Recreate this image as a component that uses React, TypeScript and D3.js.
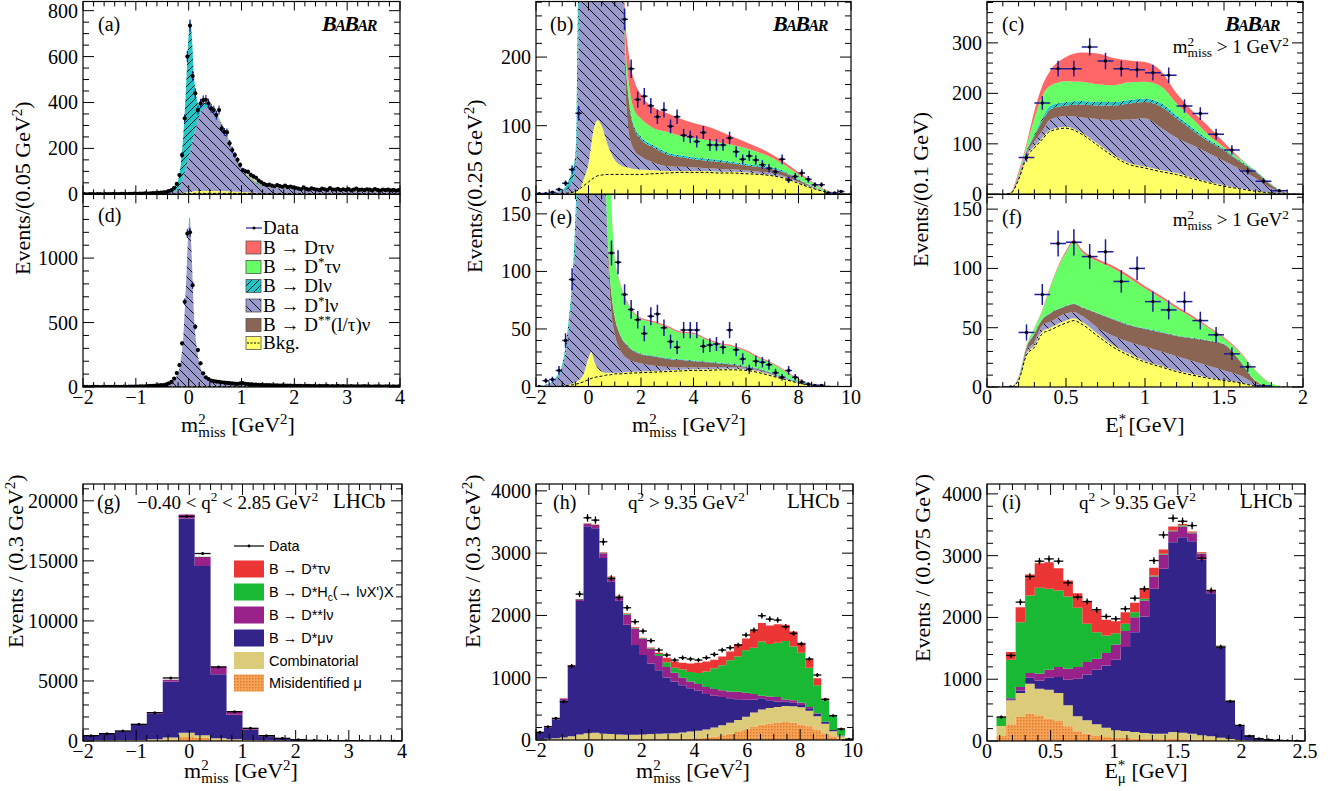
import React from 'react';
import * as d3 from 'd3';

const SERIF = '"Liberation Serif", "Times New Roman", Times, serif';
const SANS = '"Liberation Sans", Arial, Helvetica, sans-serif';

// ---------- colours ----------
const B_RED = '#ff6666';
const B_GREEN = '#66ff66';
const B_CYAN = '#22c6c6';
const B_BLUE = '#9a9acc';
const B_BROWN = '#8b6553';
const B_YELLOW = '#ffff66';
const B_ERR = '#1c1c9c';
const L_RED = '#ec3535';
const L_GREEN = '#19b935';
const L_PURPLE = '#98228a';
const L_NAVY = '#33248a';
const L_TAN = '#dccb78';

// ================= Panel (a) =================
const aX = [-2, -1.5, -1, -0.7, -0.5, -0.4, -0.3, -0.2, -0.15, -0.1, -0.05, 0, 0.03, 0.06, 0.1, 0.15, 0.2, 0.25, 0.3, 0.35, 0.4, 0.5, 0.6, 0.7, 0.8, 0.9, 1.0, 1.1, 1.2, 1.3, 1.4, 1.6, 1.8, 2.0, 2.5, 3.0, 3.5, 4.0];
const aBkgLow = [0, 0, 0, 0, 0, 0, 1, 1, 2, 2, 3, 3, 3, 3, 4, 4, 4, 4, 4, 4, 4, 4, 4, 4, 4, 4, 4, 4, 4, 3, 3, 3, 3, 3, 2, 2, 2, 2];
const aBkgHigh = [0, 0, 0, 0, 0, 0, 1, 2, 3, 4, 5, 6, 7, 8, 9, 10, 10, 10, 10, 10, 10, 10, 10, 9, 8, 7, 6, 5, 4, 3, 2, 2, 2, 2, 2, 1, 1, 1];
const aDsLnu = [0, 0.5, 1.5, 3, 5, 8, 10, 17, 35, 69, 107, 151, 180, 209, 247, 286, 326, 351, 361, 362, 358, 336, 294, 251, 193, 141, 98, 71, 52, 38, 30, 23, 19, 16, 13, 11, 9, 7];
const aDss = [0, 0, 0, 0, 0, 0, 0, 0, 0, 0, 0, 0, 0, 0, 0, 1, 1, 2, 2, 3, 3, 3, 3, 3, 3, 3, 3, 3, 3, 3, 3, 3, 3, 3, 2, 2, 2, 2];
const aDLnu = [0, 0.5, 0.5, 1, 3, 6, 13, 40, 90, 185, 345, 540, 570, 470, 260, 119, 47, 26, 21, 17, 12, 9, 5, 4, 3, 1, 1, 2, 2, 3, 2, 2, 1, 2, 2, 2, 3, 3];
const aDsTauNu = [0, 0, 0, 0, 0, 0, 0, 0, 0, 0, 0, 0, 0, 0, 0, 0, 1, 1, 1, 1, 2, 2, 2, 2, 2, 3, 3, 3, 3, 3, 3, 3, 3, 2, 2, 2, 2, 2];
const aDTauNu = [0, 0, 0, 0, 0, 0, 0, 0, 0, 0, 0, 0, 0, 0, 0, 0, 1, 1, 1, 1, 1, 1, 2, 2, 2, 2, 2, 2, 2, 2, 2, 2, 2, 2, 2, 2, 1, 1];
const aCounts = [
  1, 0, 1, 1, 0, 1, 1, 0, 1, 1, 1, 2, 1, 1, 2, 2, 1, 2, 2, 3,
  2, 3, 3, 4, 3, 4, 5, 5, 6, 7,
  8, 10, 14, 18, 28, 45, 84, 171, 331, 600,
  735, 515, 440, 367, 396, 410, 412, 396, 375, 367,
  345, 367, 287, 272, 270, 222, 193, 171, 150, 128,
  105, 100, 98, 85, 78, 72, 60, 52, 45, 40,
  42, 38, 35, 40, 36, 33, 38, 31, 34, 30,
  28, 25, 22, 30, 24, 20, 26, 23, 21, 18, 25, 22, 19, 27, 21, 20, 24, 18, 22, 19,
  23, 17, 20, 25, 19, 21, 18, 22, 20, 17, 23, 19, 16, 21, 18, 20, 17, 19, 16, 18,
];

// ================= Panel (d) =================
const dX = [-2, -1.5, -1, -0.7, -0.5, -0.4, -0.3, -0.2, -0.15, -0.1, -0.05, 0, 0.02, 0.05, 0.1, 0.15, 0.2, 0.25, 0.3, 0.4, 0.5, 0.6, 0.8, 1.0, 1.2, 1.5, 2, 2.5, 3, 3.5, 4];
const dBkgLow = [0, 0, 0, 0, 0, 0, 1, 1, 1, 2, 2, 3, 3, 3, 3, 3, 3, 3, 3, 3, 3, 3, 2, 2, 2, 2, 1, 1, 1, 1, 1];
const dBkgHigh = [0, 0, 0, 0, 0, 0, 0, 1, 1, 1, 2, 3, 3, 3, 3, 2, 2, 2, 2, 1, 1, 1, 1, 1, 1, 1, 0, 0, 0, 0, 0];
const dDsLnu = [1, 2, 4, 7, 14, 24, 47, 104, 193, 391, 788, 1234, 1304, 1086, 549, 311, 182, 113, 77, 48, 37, 30, 23, 19, 13, 8, 6, 4, 3, 2, 2];
const dDss = [0, 0, 0, 0, 0, 0, 0, 0, 0, 0, 0, 0, 0, 0, 0, 1, 1, 1, 1, 1, 1, 1, 1, 1, 1, 1, 1, 1, 1, 1, 1];
const dDLnu = [0, 0, 0, 0, 1, 1, 2, 4, 5, 6, 8, 10, 10, 8, 5, 3, 2, 1, 1, 1, 1, 1, 1, 1, 1, 1, 0, 0, 0, 0, 0];
const dDsTauNu = [0, 0, 0, 0, 0, 0, 0, 0, 0, 0, 0, 0, 0, 0, 0, 0, 0, 0, 1, 1, 1, 1, 1, 1, 1, 1, 1, 1, 1, 1, 1];
const dDTauNu = [0, 0, 0, 0, 0, 0, 0, 0, 0, 0, 0, 0, 0, 0, 0, 0, 0, 0, 0, 0, 1, 1, 1, 1, 1, 1, 1, 1, 0, 0, 0];
const dCounts = [
  2, 1, 0, 1, 2, 1, 0, 1, 1, 2, 1, 2, 1, 2, 2, 3, 2, 3, 3, 4,
  4, 5, 5, 6, 7, 8, 9, 10, 12, 14,
  15, 20, 28, 40, 65, 108, 170, 339, 661, 1190,
  1200, 790, 467, 287, 184, 106, 75, 62, 50, 45,
  42, 40, 37, 35, 32, 30, 28, 26, 24, 28,
  30, 25, 22, 20, 19, 18, 17, 16, 15, 14,
  14, 13, 12, 13, 11, 12, 10, 11, 10, 9,
  9, 8, 9, 7, 8, 8, 7, 9, 6, 8, 7, 7, 8, 6, 7, 6, 8, 6, 7, 5,
  6, 7, 5, 6, 6, 5, 7, 5, 6, 4, 5, 6, 5, 4, 6, 5, 4, 5, 4, 5,
];

// ================= Panel (b) =================
const bX = [-2, -1.5, -1, -0.75, -0.5, -0.45, -0.4, -0.3, -0.2, 0, 0.2, 0.35, 0.5, 0.75, 1, 1.2, 1.3, 1.4, 1.5, 1.6, 1.75, 2, 2.5, 3, 3.5, 4, 4.5, 5, 5.5, 6, 6.5, 7, 7.5, 8, 8.5, 9, 9.5, 10];
const bBkgLow = [0, 0, 1, 2, 4, 5, 6, 9, 12, 18, 24, 27, 28, 29, 29, 29, 29, 29, 29, 29, 29, 29, 30, 31, 32, 32, 32, 31, 31, 30, 29, 27, 23, 16, 9, 4, 1, 0];
const bBkgHigh = [0, 0, 0, 0, 0, 0, 0, 1, 8, 27, 71, 81, 72, 41, 21, 14, 12, 11, 10, 9, 8, 7, 5, 3, 2, 2, 2, 2, 2, 2, 1, 1, 1, 1, 1, 0, 0, 0];
const bDsLnu = [0, 1, 3, 8, 30, 60, 164, 490, 780, 955, 905, 892, 850, 780, 650, 557, 339, 130, 61, 40, 27, 19, 11, 7, 6, 5, 4, 4, 3, 3, 3, 3, 2, 1, 1, 0, 0, 0];
const bDss = [0, 0, 0, 0, 0, 0, 0, 0, 0, 0, 0, 0, 0, 0, 0, 0, 20, 40, 50, 40, 31, 25, 22, 17, 14, 12, 11, 10, 9, 7, 7, 6, 5, 3, 1, 0, 0, 0];
const bDLnu = [0, 0.5, 2, 10, 22, 50, 120, 150, 100, 50, 50, 50, 50, 50, 50, 40, 10, 5, 4, 4, 4, 4, 3, 3, 3, 3, 3, 3, 2, 2, 2, 2, 2, 1, 0.5, 0.5, 0, 0];
const bDsTauNu = [0, 0, 0, 0.5, 1, 2, 3, 3, 3, 3, 3, 3, 3, 3, 4, 5, 10, 15, 21, 23, 23, 26, 25, 30, 28, 28, 27, 25, 25, 23, 19, 14, 9, 7, 5.5, 1.5, 0.2, 0];
const bDTauNu = [0, 0, 0, 0, 0.5, 1, 2, 2, 2, 2, 2, 2, 3, 3, 4, 5, 20, 32, 40, 43, 43, 35, 30, 27, 25, 22, 20, 17, 12, 9, 7, 5, 4, 3, 1, 1, 0.3, 0];
const bCounts = [1, 1, 3, 7, 16, 36, 118, null, null, null, null, null, null, 255, 183, 138, 143, 129, 113, 123, 99, 113, 86, 84, 77, 90, 72, 72, 72, 82, 62, 51, 56, 50, 43, 38, 33, 51, 21, 26, 31, 22, 14, 14, 2, 2, 4, null];

// ================= Panel (e) =================
const eX = [-2, -1.5, -1.25, -1, -0.75, -0.6, -0.5, -0.45, -0.4, -0.2, 0, 0.1, 0.25, 0.5, 0.6, 0.7, 0.8, 0.9, 1, 1.2, 1.5, 2, 2.5, 3, 3.5, 4, 4.5, 5, 5.5, 6, 6.5, 7, 7.5, 8, 8.5, 9, 9.5, 10];
const eBkgLow = [0, 0, 0, 0.5, 1, 1.5, 2, 2.2, 2.5, 4, 6, 7, 8, 9, 9.5, 10, 10, 10.5, 11, 11, 11.5, 12, 12.5, 13, 13.5, 14, 14, 14.5, 14.5, 14, 12, 9, 6, 3, 1, 0.3, 0, 0];
const eBkgHigh = [0, 0, 0, 0, 0.5, 1, 1.5, 1.8, 2.5, 6, 19, 23, 12, 4, 2.5, 2, 2, 1.5, 1, 1, 1, 1, 1, 1, 1, 1, 1, 1, 1, 1, 1, 1, 0.5, 0.2, 0.1, 0, 0, 0];
const eDsLnu = [0, 2, 6, 15.5, 48.5, 85.5, 121.5, 151, 190, 370, 445, 440, 435, 367, 208, 128, 73, 46, 33, 20, 11.5, 7, 4.5, 3, 2, 1.5, 1.5, 1.5, 1.5, 1, 1, 0.5, 0.5, 0.2, 0.05, 0, 0, 0];
const eDss = [0, 0, 0, 0, 0, 0, 0, 0, 0, 0, 0, 0, 0, 0, 0, 5, 15, 17, 15, 13, 11, 8, 8, 7, 6.5, 5.5, 4.5, 3, 2, 1, 1, 0.5, 0.3, 0.2, 0.05, 0, 0, 0];
const eDLnu = [0, 0.5, 1.5, 3, 8, 10, 20, 25, 25, 20, 20, 20, 20, 20, 15, 5, 0.7, 0.7, 0.7, 0.7, 0.7, 0.7, 0.7, 0.7, 0.7, 0.7, 0.7, 0.7, 0.7, 0.7, 0.7, 0.7, 0.7, 0.7, 0.3, 0.1, 0, 0];
const eDsTauNu = [0, 0, 0, 0.5, 0.5, 1, 1, 1, 1, 1, 1, 1, 1, 1, 5, 65, 99, 69, 51, 44, 36, 30, 29, 27, 23, 23, 19, 16, 15, 13, 9, 8, 5, 1.7, 0.8, 0.3, 0.1, 0];
const eDTauNu = [0, 0, 0, 0, 0, 0, 0.5, 0.5, 0.5, 0.5, 0.5, 0.5, 0.5, 0.5, 0.5, 0.5, 1, 1, 1, 1, 1, 1, 1, 1, 1, 1, 1, 1, 1, 1, 1, 1, 1, 1, 0.3, 0.1, 0, 0];
const eCounts = [0, 5, 6, 14, 40, 93, null, null, null, null, null, 116, 108, 80, 67, 58, 46, 61, 63, 51, 39, 34, 49, 49, 49, 35, 36, 37, 34, 49, 32, 24, 15, 22, 21, 19, 12, 8, 14, 8, 4, 2, 1, 1, null, null, null, null];

// ================= Panel (c) =================
const cX = [0, 0.1, 0.15, 0.2, 0.25, 0.3, 0.35, 0.4, 0.5, 0.6, 0.7, 0.8, 0.9, 1.0, 1.1, 1.2, 1.3, 1.4, 1.5, 1.6, 1.7, 1.8, 1.85, 1.9, 2.0];
const cBkgLow = [0, 0, 2, 29, 73, 92, 109, 125, 131, 119, 97, 75, 59, 52, 45, 39, 31, 23, 16, 11, 6, 2.5, 1.3, 0.5, 0];
const cBkgHigh = [0, 0, 0, 1, 2, 3, 3, 3, 3, 3, 3, 3, 3, 3, 3, 3, 2, 2, 2, 1, 1, 0.5, 0.2, 0, 0];
const cDsLnu = [0, 0, 0.5, 3, 5, 10, 13, 20, 21, 30, 49, 69, 86, 95, 84, 70, 64, 57, 48, 38, 25, 9, 3.5, 1, 0];
const cDss = [0, 0, 0.5, 3, 5, 10, 20, 20, 21, 26, 27, 29, 32, 33, 42, 38, 30, 23, 21, 15, 12, 6, 3, 1, 0];
const cDLnu = [0, 0, 0.2, 1, 2, 4, 6, 7, 7, 7, 7, 7, 7, 7, 7, 6, 5, 4, 3, 2, 2, 1, 0.5, 0.2, 0];
const cDsTauNu = [0, 0, 0.3, 3, 8, 31, 44, 40, 41, 38, 35, 33, 35, 33, 33, 24, 18, 9, 3, 3, 0.5, 1, 0.5, 0.3, 0];
const cDTauNu = [0, 0, 0.5, 5, 5, 15, 20, 30, 48, 58, 61, 54, 43, 39, 31, 20, 15, 17, 10, 2, 0.5, 0.5, 0.2, 0.1, 0];
const cCounts = [null, null, 73, 181, 249, 249, 292, 264, 249, 247, 241, 236, 175, 160, 119, 88, 46, 26, 7, null];

// ================= Panel (f) =================
const fX = [0, 0.1, 0.15, 0.2, 0.25, 0.3, 0.35, 0.4, 0.5, 0.55, 0.6, 0.7, 0.8, 0.9, 1.0, 1.1, 1.2, 1.3, 1.4, 1.5, 1.6, 1.7, 1.8, 1.85, 1.9, 2.0];
const fBkgLow = [0, 0, 0, 5.5, 27, 33.5, 45, 48, 54, 56, 53, 43, 33.5, 26.5, 21, 17, 13, 10, 7.5, 5.5, 3.5, 0.8, 0, 0, 0, 0];
const fBkgHigh = [0, 0, 0, 0.5, 1, 1.5, 2, 2, 2, 2, 2, 2, 1.5, 1.5, 1, 1, 1, 1, 0.5, 0.5, 0.5, 0.2, 0, 0, 0, 0];
const fDsLnu = [0, 0, 0, 1, 2, 3, 5, 5, 6, 5, 5, 5, 8, 10, 12, 12, 12, 11, 10, 8, 6, 2, 0, 0, 0, 0];
const fDss = [0, 0, 0, 0.5, 3, 7, 5, 7, 6, 7, 7, 12, 14, 14, 15, 16, 17, 19, 21, 22, 12, 2, 0, 0, 0, 0];
const fDLnu = [0, 0, 0, 0.2, 0.5, 0.5, 0.5, 0.5, 0.5, 0.5, 0.5, 0.5, 0.5, 0.5, 0.5, 0.5, 0.5, 0.5, 0.5, 0.5, 0.5, 0.3, 0.1, 0, 0, 0];
const fDsTauNu = [0, 0, 0, 1, 1, 4, 6.5, 21.5, 45, 51.5, 46.5, 43.5, 42.5, 39.5, 33.5, 28.5, 23, 17, 10.5, 4.5, 6.5, 8.2, 2.6, 0.9, 0.25, 0];
const fDTauNu = [0, 0, 0, 0.3, 0.5, 0.5, 1, 1, 1.5, 2, 2, 2, 2, 2, 2, 2, 1.5, 1.5, 1, 1, 1, 0.5, 0.3, 0.1, 0.05, 0];
const fCounts = [null, 0, 46, 78, 121, 122, 110, 114, 89, 100, 72, 65, 72, 56, 44, 28, 17, 1, null, null];

// ================= Panel (g) LHCb =================
const gMisid = [20, 25, 30, 40, 60, 120, 333, 278, 100, 60, 40, 30, 20, 15, 10, 8, 5, 4, 3, 2];
const gComb = [40, 45, 50, 50, 90, 170, 361, 194, 122, 79, 50, 30, 20, 15, 10, 7, 5, 4, 3, 2];
const gDsMuNu = [370, 525, 730, 1260, 2150, 4660, 17836, 14108, 5338, 2051, 850, 340, 150, 65, 25, 13, 8, 4, 3, 2];
const gDssLNu = [10, 13, 20, 35, 55, 150, 330, 750, 605, 280, 115, 44, 30, 15, 10, 5, 3, 2, 1, 1];
const gDsHc = [1, 1, 2, 2, 3, 5, 5, 5, 3, 2, 2, 1, 1, 1, 1, 1, 1, 1, 0, 0];
const gDsTauNu = [3, 2, 2, 2, 3, 5, 5, 5, 2, 2, 1, 1, 1, 1, 0, 0, 0, 0, 0, 0];
const gData = [444, 611, 833, 1389, 2361, 5250, 18700, 15611, 6170, 2440, 1056, 444, 222, 111, 56, 34, 22, 15, 10, 7];

// ================= Panel (h) LHCb =================
const hMisid = [0, 0, 0, 2, 5, 10, 15, 15, 10, 10, 10, 10, 10, 10, 10, 10, 15, 15, 20, 25, 30, 40, 55, 75, 100, 130, 170, 210, 245, 265, 280, 290, 275, 250, 220, 170, 110, 60, 20, 3];
const hComb = [15, 20, 30, 38, 55, 80, 95, 100, 90, 85, 80, 75, 75, 80, 85, 90, 90, 95, 100, 110, 120, 130, 145, 160, 175, 190, 205, 230, 245, 250, 250, 255, 265, 275, 250, 210, 150, 80, 40, 7];
const hDsMuNu = [105, 180, 305, 600, 1110, 2140, 3320, 3285, 2820, 2445, 2145, 1765, 1440, 1275, 1135, 1020, 900, 830, 760, 695, 640, 570, 510, 455, 395, 335, 270, 210, 180, 125, 90, 70, 60, 35, 40, 40, 30, 20, 10, 2];
const hDssLNu = [4, 8, 10, 25, 25, 30, 40, 50, 80, 70, 65, 160, 265, 255, 230, 230, 165, 140, 120, 110, 110, 110, 110, 110, 110, 120, 115, 90, 40, 60, 70, 35, 40, 40, 20, 10, 5, 2, 1, 0];
const hDsHc = [0, 1, 1, 2, 3, 3, 5, 5, 8, 8, 8, 15, 10, 12, 15, 30, 80, 80, 130, 150, 175, 250, 330, 400, 500, 565, 680, 740, 870, 840, 870, 940, 860, 800, 630, 450, 345, 223, 104, 13];
const hDsTauNu = [1, 1, 2, 3, 2, 2, 5, 5, 7, 7, 7, 10, 10, 8, 10, 20, 70, 100, 110, 140, 165, 160, 140, 140, 140, 200, 190, 280, 300, 300, 300, 260, 240, 160, 140, 110, 25, 15, 10, 2];
const hData = [123, 214, 348, 615, 1187, 2342, 3567, 3530, 3182, 2594, 2289, 2123, 1899, 1749, 1594, 1444, 1364, 1283, 1321, 1300, 1283, 1321, 1374, 1444, 1481, 1524, 1685, 1765, 1995, 1941, 1925, 1818, 1711, 1540, 1300, 1043, 652, 390, 176, 11];

// ================= Panel (i) LHCb =================
const iMisid = [81, 270, 388, 442, 415, 361, 323, 237, 156, 119, 81, 65, 54, 49, 38, 32, 32, 27, 32, 27, 22, 22, 15, 10, 5, 3, 2, 1, 1, 0, 0, 0];
const iComb = [162, 388, 388, 485, 431, 469, 453, 340, 243, 215, 189, 151, 118, 113, 108, 97, 87, 92, 114, 108, 97, 70, 60, 44, 27, 13, 6, 3, 1, 1, 0.5, 0.2];
const iDsMuNu = [0, 17, 43, 97, 135, 194, 259, 415, 609, 744, 883, 1008, 1143, 1358, 1616, 1887, 2344, 2668, 3072, 3164, 3115, 2840, 2318, 1455, 609, 227, 80, 32, 19, 9.5, 4.5, 1.8];
const iDssLNu = [0, 15, 54, 76, 108, 129, 162, 178, 189, 199, 178, 199, 248, 259, 243, 259, 200, 231, 178, 172, 129, 97, 37, 21, 9, 5, 2, 1, 0.5, 0.3, 0, 0];
const iDsHc = [137, 625, 1051, 1255, 1390, 1310, 1239, 1169, 959, 620, 431, 286, 183, 118, 81, 27, 16, 11, 11, 16, 11, 11, 6, 10, 5, 3, 1, 1, 0.5, 0.2, 0, 0];
const iDsTauNu = [8, 124, 243, 340, 399, 431, 361, 259, 237, 351, 351, 253, 194, 189, 151, 161, 124, 70, 64, 27, 16, 16, 11, 7, 3, 2, 1, 0, 0, 0, 0, 0];
const iData = [388, 1385, 2248, 2663, 2911, 2948, 2911, 2560, 2329, 2258, 2124, 2016, 1978, 2140, 2312, 2463, 2921, 3336, 3606, 3557, 3487, 2959, 2436, 1520, 641, 253, 81, 38, 22, 11, 5, 0];

// ---------- keys / fills ----------
const BABAR_KEYS = ['bkgLow', 'bkgHigh', 'dslnu', 'dss', 'dlnu', 'dstaunu', 'dtaunu'];
const BABAR_FILL: Record<string, string> = {
  bkgLow: B_YELLOW, bkgHigh: B_YELLOW, dslnu: 'url(#hatchBlue)', dss: B_BROWN,
  dlnu: 'url(#hatchCyan)', dstaunu: B_GREEN, dtaunu: B_RED,
};
const LHCB_KEYS = ['misid', 'comb', 'dsmunu', 'dsslnu', 'dshc', 'dstaunu'];
const LHCB_FILL: Record<string, string> = {
  misid: 'url(#misidDots)', comb: L_TAN, dsmunu: L_NAVY, dsslnu: L_PURPLE, dshc: L_GREEN, dstaunu: L_RED,
};

function babarComps(L: number[], H: number[], B: number[], Br: number[], C: number[], G: number[], R: number[]) {
  return { bkgLow: L, bkgHigh: H, dslnu: B, dss: Br, dlnu: C, dstaunu: G, dtaunu: R };
}
function lhcbComps(O: number[], T: number[], N: number[], P: number[], G: number[], R: number[]) {
  return { misid: O, comb: T, dsmunu: N, dsslnu: P, dshc: G, dstaunu: R };
}

const babarSpecs = [
  { id: 'a', left: 83, right: 400, top: 1.5, bottom: 194.3, xMin: -2, xMax: 4, yMax: 840, xMajor: 1, xMinor: 0.2, yMajor: 200, yMinor: 50, xLabels: false, xs: aX, comps: babarComps(aBkgLow, aBkgHigh, aDsLnu, aDss, aDLnu, aDsTauNu, aDTauNu), counts: aCounts, binStart: -2, binW: 0.05, dotR: 2.1, errW: 1.2 },
  { id: 'd', left: 83, right: 400, top: 194.3, bottom: 387, xMin: -2, xMax: 4, yMax: 1495, xMajor: 1, xMinor: 0.2, yMajor: 500, yMinor: 100, xLabels: true, xs: dX, comps: babarComps(dBkgLow, dBkgHigh, dDsLnu, dDss, dDLnu, dDsTauNu, dDTauNu), counts: dCounts, binStart: -2, binW: 0.05, dotR: 2.1, errW: 1.2 },
  { id: 'b', left: 536, right: 851, top: 1.5, bottom: 194.3, xMin: -2, xMax: 10, yMax: 281, xMajor: 2, xMinor: 0.5, yMajor: 100, yMinor: 20, xLabels: false, xs: bX, comps: babarComps(bBkgLow, bBkgHigh, bDsLnu, bDss, bDLnu, bDsTauNu, bDTauNu), counts: bCounts, binStart: -2, binW: 0.25, dotR: 1.7, errW: 1.5 },
  { id: 'e', left: 536, right: 851, top: 194.3, bottom: 386.5, xMin: -2, xMax: 10, yMax: 167, xMajor: 2, xMinor: 0.5, yMajor: 50, yMinor: 10, xLabels: true, xs: eX, comps: babarComps(eBkgLow, eBkgHigh, eDsLnu, eDss, eDLnu, eDsTauNu, eDTauNu), counts: eCounts, binStart: -2, binW: 0.25, dotR: 1.7, errW: 1.5 },
  { id: 'c', left: 987, right: 1303, top: 1.5, bottom: 194.3, xMin: 0, xMax: 2, yMax: 382, xMajor: 0.5, xMinor: 0.1, yMajor: 100, yMinor: 20, xLabels: false, xs: cX, comps: babarComps(cBkgLow, cBkgHigh, cDsLnu, cDss, cDLnu, cDsTauNu, cDTauNu), counts: cCounts, binStart: 0, binW: 0.1, dotR: 1.7, errW: 1.5 },
  { id: 'f', left: 987, right: 1303, top: 194.3, bottom: 387, xMin: 0, xMax: 2, yMax: 162.5, xMajor: 0.5, xMinor: 0.1, yMajor: 50, yMinor: 10, xLabels: true, xs: fX, comps: babarComps(fBkgLow, fBkgHigh, fDsLnu, fDss, fDLnu, fDsTauNu, fDTauNu), counts: fCounts, binStart: 0, binW: 0.1, dotR: 1.7, errW: 1.5 },
];

const lhcbSpecs = [
  { id: 'g', left: 83, right: 402, top: 484, bottom: 741, xMin: -2, xMax: 4, yMax: 21400, xMajor: 1, xMinor: 0.2, yMajor: 5000, yMinor: 1000, xLabels: true, comps: lhcbComps(gMisid, gComb, gDsMuNu, gDssLNu, gDsHc, gDsTauNu), data: gData, binStart: -2, binW: 0.3 },
  { id: 'h', left: 536, right: 853, top: 484, bottom: 740, xMin: -2, xMax: 10, yMax: 4110, xMajor: 2, xMinor: 0.5, yMajor: 1000, yMinor: 200, xLabels: true, comps: lhcbComps(hMisid, hComb, hDsMuNu, hDssLNu, hDsHc, hDsTauNu), data: hData, binStart: -2, binW: 0.3 },
  { id: 'i', left: 987, right: 1305, top: 484, bottom: 741, xMin: 0, xMax: 2.5, yMax: 4160, xMajor: 0.5, xMinor: 0.1, yMajor: 1000, yMinor: 200, xLabels: true, comps: lhcbComps(iMisid, iComb, iDsMuNu, iDssLNu, iDsHc, iDsTauNu), data: iData, binStart: 0.075, binW: 0.075 },
];

// ---------- helpers ----------
function steps(a: number, b: number, s: number) {
  const out: number[] = [];
  const i0 = Math.ceil(a / s - 1e-9);
  const i1 = Math.floor(b / s + 1e-9);
  for (let i = i0; i <= i1; i++) out.push(+(i * s).toFixed(6));
  return out;
}
const isMaj = (v: number, m: number) => Math.abs(v / m - Math.round(v / m)) < 1e-6;
const fmt = (v: number) => (v < 0 ? '\u2212' : '') + String(+Math.abs(v).toFixed(4));

function Axes({ p, sx, sy, xTick }: any) {
  const yt = steps(0, p.yMax, p.yMinor);
  const xt = steps(p.xMin, p.xMax, p.xMinor);
  let d = '';
  yt.forEach((v) => {
    const y = sy(v);
    const L = isMaj(v, p.yMajor) ? 11 : 6;
    d += `M${p.left},${y}h${L}M${p.right},${y}h${-L}`;
  });
  xt.forEach((v) => {
    const x = sx(v);
    const L = isMaj(v, p.xMajor) ? xTick : xTick * 0.55;
    d += `M${x},${p.bottom}v${-L}M${x},${p.top}v${L}`;
  });
  return (
    <g>
      <path d={d} stroke="#000" strokeWidth={1} fill="none" />
      <rect x={p.left} y={p.top} width={p.right - p.left} height={p.bottom - p.top} fill="none" stroke="#000" strokeWidth={1.2} />
      {yt.filter((v) => isMaj(v, p.yMajor)).map((v) => (
        <text key={'y' + v} x={p.left - 5} y={sy(v)} dy="0.35em" textAnchor="end" fontFamily={SERIF} fontSize={20}>{fmt(v)}</text>
      ))}
      {p.xLabels && xt.filter((v) => isMaj(v, p.xMajor)).map((v) => (
        <text key={'x' + v} x={sx(v)} y={p.bottom + 17} textAnchor="middle" fontFamily={SERIF} fontSize={20}>{fmt(v)}</text>
      ))}
    </g>
  );
}

function BabarPanel({ p }: any) {
  const sx = d3.scaleLinear().domain([p.xMin, p.xMax]).range([p.left, p.right]);
  const sy = d3.scaleLinear().domain([0, p.yMax]).range([p.bottom, p.top]);
  const rows = p.xs.map((x: number, i: number) => {
    const r: any = { x };
    BABAR_KEYS.forEach((k) => { r[k] = p.comps[k][i]; });
    return r;
  });
  const series = d3.stack<any>().keys(BABAR_KEYS)(rows);
  const area = d3.area<any>().x((d: any) => sx(d.data.x)).y0((d: any) => sy(d[0])).y1((d: any) => sy(d[1])).curve(d3.curveMonotoneX);
  const dash = d3.line<any>().x((d: any) => sx(d.data.x)).y((d: any) => sy(d[1])).curve(d3.curveMonotoneX);
  const clipId = 'clip-' + p.id;
  const pts = p.counts
    .map((v: number | null, i: number) => (v == null ? null : { i, v, c: p.binStart + (i + 0.5) * p.binW, e: Math.sqrt(v) }))
    .filter((d: any) => d);
  return (
    <g>
      <clipPath id={clipId}>
        <rect x={p.left} y={p.top} width={p.right - p.left} height={p.bottom - p.top} />
      </clipPath>
      <g clipPath={`url(#${clipId})`}>
        {series.map((s: any) => (
          <path key={s.key} d={area(s) || ''} fill={BABAR_FILL[s.key]} stroke="none" />
        ))}
        <path d={dash(series[0] as any) || ''} fill="none" stroke="#000" strokeWidth={1} strokeDasharray="3,2" />
        {pts.map((d: any) => {
          const x = sx(d.c);
          const y = sy(d.v);
          return (
            <g key={d.i}>
              <line x1={sx(d.c - p.binW / 2)} x2={sx(d.c + p.binW / 2)} y1={y} y2={y} stroke={B_ERR} strokeWidth={p.errW} />
              <line x1={x} x2={x} y1={sy(d.v - d.e)} y2={sy(d.v + d.e)} stroke={B_ERR} strokeWidth={p.errW} />
              <circle cx={x} cy={y} r={p.dotR} fill="#000" />
            </g>
          );
        })}
      </g>
      <Axes p={p} sx={sx} sy={sy} xTick={9} />
    </g>
  );
}

function LhcbPanel({ p }: any) {
  const sx = d3.scaleLinear().domain([p.xMin, p.xMax]).range([p.left, p.right]);
  const sy = d3.scaleLinear().domain([0, p.yMax]).range([p.bottom, p.top]);
  const rows = p.data.map((_: number, i: number) => {
    const r: any = { i };
    LHCB_KEYS.forEach((k) => { r[k] = p.comps[k][i]; });
    return r;
  });
  const series = d3.stack<any>().keys(LHCB_KEYS)(rows);
  const area = d3.area<any>().x((d: any) => sx(d.x)).y0((d: any) => sy(d.y0)).y1((d: any) => sy(d.y1));
  const clipId = 'clip-' + p.id;
  return (
    <g>
      <clipPath id={clipId}>
        <rect x={p.left} y={p.top} width={p.right - p.left} height={p.bottom - p.top} />
      </clipPath>
      <g clipPath={`url(#${clipId})`}>
        {series.map((s: any) => {
          const pts: any[] = [];
          s.forEach((d: any, i: number) => {
            const e0 = p.binStart + i * p.binW;
            pts.push({ x: e0, y0: d[0], y1: d[1] });
            pts.push({ x: e0 + p.binW, y0: d[0], y1: d[1] });
          });
          return <path key={s.key} d={area(pts) || ''} fill={LHCB_FILL[s.key]} stroke="none" />;
        })}
        {p.data.map((v: number, i: number) => {
          const c = p.binStart + (i + 0.5) * p.binW;
          const e = Math.sqrt(v);
          const x = sx(c);
          const y = sy(v);
          return (
            <g key={i}>
              <line x1={sx(c - p.binW / 2)} x2={sx(c + p.binW / 2)} y1={y} y2={y} stroke="#000" strokeWidth={1.3} />
              <line x1={x} x2={x} y1={sy(v - e)} y2={sy(v + e)} stroke="#000" strokeWidth={1.3} />
              <circle cx={x} cy={y} r={1.5} fill="#000" />
            </g>
          );
        })}
      </g>
      <Axes p={p} sx={sx} sy={sy} xTick={11} />
    </g>
  );
}

// ---------- text helpers ----------
function Babar({ x, y }: { x: number; y: number }) {
  return (
    <text x={x} y={y} fontFamily={SERIF} fontStyle="italic" fontWeight="bold" letterSpacing={-1.5}>
      <tspan fontSize={22}>B</tspan>
      <tspan fontSize={16}>A</tspan>
      <tspan fontSize={22}>B</tspan>
      <tspan fontSize={16}>AR</tspan>
    </text>
  );
}

function MissCut({ x, y }: { x: number; y: number }) {
  const s = 19;
  return (
    <text x={x} y={y} textAnchor="end" fontFamily={SERIF} fontSize={s}>
      m
      <tspan fontSize={s * 0.7} dy={-s * 0.38}>2</tspan>
      <tspan fontSize={s * 0.7} dx={-s * 0.35} dy={s * 0.6}>miss</tspan>
      <tspan dy={-s * 0.22}>{' > 1 GeV'}</tspan>
      <tspan fontSize={s * 0.7} dy={-s * 0.38}>2</tspan>
    </text>
  );
}

function MissTitle({ x, y }: { x: number; y: number }) {
  const s = 22;
  return (
    <text x={x} y={y} textAnchor="middle" fontFamily={SERIF} fontSize={s}>
      m
      <tspan fontSize={s * 0.68} dy={-s * 0.38}>2</tspan>
      <tspan fontSize={s * 0.68} dx={-s * 0.34} dy={s * 0.62}>miss</tspan>
      <tspan dy={-s * 0.24}>{' [GeV'}</tspan>
      <tspan fontSize={s * 0.68} dy={-s * 0.38}>2</tspan>
      <tspan dy={s * 0.38}>]</tspan>
    </text>
  );
}

function ETitle({ x, y, sub }: { x: number; y: number; sub: string }) {
  const s = 22;
  return (
    <text x={x} y={y} textAnchor="middle" fontFamily={SERIF} fontSize={s}>
      E
      <tspan fontSize={s * 0.68} dy={-s * 0.38}>*</tspan>
      <tspan fontSize={s * 0.68} dx={-s * 0.34} dy={s * 0.62}>{sub}</tspan>
      <tspan dy={-s * 0.24}>{' [GeV]'}</tspan>
    </text>
  );
}

function YTitle({ x, y, main, sq, tail }: { x: number; y: number; main: string; sq: boolean; tail: string }) {
  return (
    <text transform={`translate(${x},${y}) rotate(-90)`} fontFamily={SERIF} fontSize={22}>
      {main}
      {sq ? <tspan fontSize={15} dy={-8}>2</tspan> : null}
      {sq ? <tspan dy={8}>{tail}</tspan> : <tspan>{tail}</tspan>}
    </text>
  );
}

function Q2Label({ x, y, pre, post }: { x: number; y: number; pre: string; post: string }) {
  const s = 19;
  return (
    <text x={x} y={y} fontFamily={SERIF} fontSize={s}>
      {pre}q
      <tspan fontSize={s * 0.7} dy={-s * 0.4}>2</tspan>
      <tspan dy={s * 0.4}>{post}</tspan>
      <tspan fontSize={s * 0.7} dy={-s * 0.4}>2</tspan>
    </text>
  );
}

function BabarLegend() {
  const x0 = 246, w = 15, h = 13, tx = 263;
  const ys = [228, 247.5, 267, 286, 305.5, 325, 343];
  const sup = (t: string) => <tspan fontSize={13} dy={-7}>{t}</tspan>;
  const rows: any[] = [
    { fill: B_RED, label: <>{'B \u2192 D\u03c4\u03bd'}</> },
    { fill: B_GREEN, label: <>{'B \u2192 D'}{sup('*')}<tspan dy={7}>{'\u03c4\u03bd'}</tspan></> },
    { fill: 'url(#hatchCyan)', label: <>{'B \u2192 Dl\u03bd'}</> },
    { fill: 'url(#hatchBlue)', label: <>{'B \u2192 D'}{sup('*')}<tspan dy={7}>{'l\u03bd'}</tspan></> },
    { fill: B_BROWN, label: <>{'B \u2192 D'}{sup('**')}<tspan dy={7}>{'(l/\u03c4)\u03bd'}</tspan></> },
    { fill: B_YELLOW, label: <>Bkg.</>, dashed: true },
  ];
  return (
    <g fontFamily={SERIF} fontSize={19}>
      <line x1={x0} x2={x0 + w + 1} y1={ys[0]} y2={ys[0]} stroke={B_ERR} strokeWidth={1.2} />
      <circle cx={x0 + (w + 1) / 2} cy={ys[0]} r={1.6} fill="#000" />
      <text x={tx} y={ys[0]} dy="0.33em">Data</text>
      {rows.map((r, k) => {
        const y = ys[k + 1];
        return (
          <g key={k}>
            <rect x={x0} y={y - h / 2} width={w} height={h} fill={r.fill} stroke="#555" strokeWidth={0.8} />
            {r.dashed ? <line x1={x0 + 1} x2={x0 + w - 1} y1={y} y2={y} stroke="#000" strokeWidth={1} strokeDasharray="2,1.5" /> : null}
            <text x={tx} y={y} dy="0.33em">{r.label}</text>
          </g>
        );
      })}
    </g>
  );
}

function LhcbLegend() {
  const x0 = 234, w = 30, h = 17, tx = 269;
  const ys = [546, 569, 592, 615, 638, 660.5, 683];
  const rows: any[] = [
    { fill: L_RED, label: <>{'B \u2192 D*\u03c4\u03bd'}</> },
    { fill: L_GREEN, label: <>{'B \u2192 D*H'}<tspan fontSize={10} dy={4}>c</tspan><tspan dy={-4}>{'(\u2192 l\u03bdX\')X'}</tspan></> },
    { fill: L_PURPLE, label: <>{'B \u2192 D**l\u03bd'}</> },
    { fill: L_NAVY, label: <>{'B \u2192 D*\u03bc\u03bd'}</> },
    { fill: L_TAN, label: <>Combinatorial</> },
    { fill: 'url(#misidDots)', label: <>{'Misidentified \u03bc'}</> },
  ];
  return (
    <g fontFamily={SANS} fontSize={14.5}>
      <line x1={x0} x2={x0 + w} y1={ys[0]} y2={ys[0]} stroke="#000" strokeWidth={1.2} />
      <circle cx={x0 + w / 2} cy={ys[0]} r={1.4} fill="#000" />
      <text x={tx} y={ys[0]} dy="0.35em">Data</text>
      {rows.map((r, k) => {
        const y = ys[k + 1];
        return (
          <g key={k}>
            <rect x={x0} y={y - h / 2} width={w} height={h} fill={r.fill} />
            <text x={tx} y={y} dy="0.35em">{r.label}</text>
          </g>
        );
      })}
    </g>
  );
}

export default function App() {
  return (
    <svg width={1339} height={791} viewBox="0 0 1339 791" xmlns="http://www.w3.org/2000/svg"
      style={{ position: 'absolute', left: 0, top: 0, display: 'block', background: '#fff' }}>
      <defs>
        <pattern id="hatchBlue" patternUnits="userSpaceOnUse" width={10} height={10}>
          <rect width={10} height={10} fill={B_BLUE} />
          <path d="M-1,-1 L11,11 M-1,9 L1,11 M9,-1 L11,1" stroke="#000" strokeWidth={0.9} />
        </pattern>
        <pattern id="hatchCyan" patternUnits="userSpaceOnUse" width={7} height={7}>
          <rect width={7} height={7} fill={B_CYAN} />
          <path d="M-1,8 L8,-1 M-1,1 L1,-1 M6,8 L8,6" stroke="#000" strokeWidth={0.9} />
        </pattern>
        <pattern id="misidDots" patternUnits="userSpaceOnUse" width={3} height={3}>
          <rect width={3} height={3} fill="#f4a55a" />
          <rect width={1.5} height={1.5} fill="#e47a26" />
        </pattern>
      </defs>
      <rect x={0} y={0} width={1339} height={791} fill="#fff" />

      {babarSpecs.map((p) => <BabarPanel key={p.id} p={p} />)}
      {lhcbSpecs.map((p) => <LhcbPanel key={p.id} p={p} />)}

      {/* panel labels */}
      <g fontFamily={SERIF} fontSize={20}>
        <text x={98} y={31}>(a)</text>
        <text x={550} y={31}>(b)</text>
        <text x={1002} y={31}>(c)</text>
        <text x={98} y={222}>(d)</text>
        <text x={550} y={224}>(e)</text>
        <text x={1002} y={224}>(f)</text>
        <text x={97} y={509}>(g)</text>
        <text x={553} y={509}>(h)</text>
        <text x={1002} y={509}>(i)</text>
      </g>
      <Babar x={322} y={31} />
      <Babar x={773} y={31} />
      <Babar x={1225} y={31} />
      <MissCut x={1289} y={53} />
      <MissCut x={1289} y={226} />

      <Q2Label x={137} y={509} pre={'\u22120.40 < '} post={' < 2.85 GeV'} />
      <Q2Label x={628} y={509} pre={''} post={' > 9.35 GeV'} />
      <Q2Label x={1079} y={509} pre={''} post={' > 9.35 GeV'} />
      <g fontFamily={SERIF} fontSize={21}>
        <text x={333} y={508}>LHCb</text>
        <text x={787} y={508}>LHCb</text>
        <text x={1240} y={508}>LHCb</text>
      </g>

      <BabarLegend />
      <LhcbLegend />

      {/* axis titles */}
      <MissTitle x={238} y={432} />
      <MissTitle x={689} y={432} />
      <ETitle x={1145} y={432} sub="l" />
      <MissTitle x={241} y={778} />
      <MissTitle x={693} y={778} />
      <ETitle x={1146} y={778} sub={'\u03bc'} />

      <YTitle x={30} y={275} main="Events/(0.05 GeV" sq={true} tail=")" />
      <YTitle x={482} y={273} main="Events/(0.25 GeV" sq={true} tail=")" />
      <YTitle x={928} y={267} main="Events/(0.1 GeV" sq={false} tail=")" />
      <YTitle x={23} y={648} main="Events / (0.3 GeV" sq={true} tail=")" />
      <YTitle x={480} y={648} main="Events / (0.3 GeV" sq={true} tail=")" />
      <YTitle x={930} y={662} main="Events / (0.075 GeV" sq={false} tail=")" />
    </svg>
  );
}
